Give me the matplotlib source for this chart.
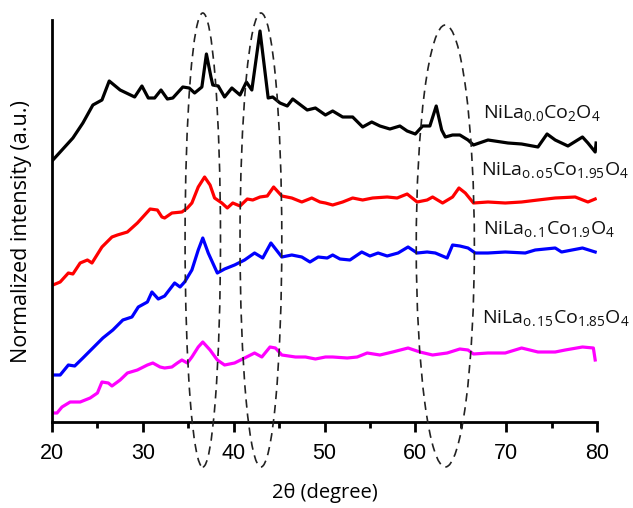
import matplotlib
matplotlib.use("Agg")
import matplotlib.pyplot as plt
from matplotlib.patches import Ellipse

# ---- data ----
x_black = [20.1, 20.9, 22.3, 23.4, 24.5, 25.5, 26.3, 27.5, 29.1, 29.9, 30.6, 31.3, 32.0, 32.7,
           33.3, 34.4, 35.1, 35.7, 36.5, 37.0, 37.5, 37.7, 38.3, 39.0, 39.8, 40.7, 41.4, 42.0,
           42.9, 43.8, 44.3, 45.1, 45.9, 46.5, 48.1, 49.0, 50.1, 50.9, 52.0, 53.1, 54.2, 55.2,
           56.1, 57.2, 58.3, 59.1, 60.0, 60.8, 61.6, 62.3, 62.9, 63.3, 64.1, 64.9, 65.8, 66.4,
           68.0, 70.2, 71.7, 73.5, 74.5, 75.4, 76.8, 78.4, 79.0, 79.8, 79.9]
y_black = [262, 270, 284, 299, 317, 322, 341, 332, 325, 336, 324, 324, 332, 323,
           324, 335, 334, 329, 335, 368, 345, 337, 336, 325, 334, 327, 340, 332,
           391, 324, 325, 319, 316, 323, 312, 314, 307, 311, 305, 305, 295, 300,
           296, 293, 296, 291, 288, 296, 296, 316, 292, 285, 287, 287, 282, 277,
           282, 279, 278, 275, 288, 282, 276, 285, 279, 270, 279]

x_red = [20.1, 20.9, 21.8, 22.3, 23.1, 23.9, 24.4, 25.5, 26.6, 27.2, 28.3, 29.4, 30.5, 30.8,
         31.6, 32.1, 32.4, 33.2, 34.3, 34.9, 35.4, 36.1, 36.8, 37.4, 37.9, 38.7, 39.3, 39.9,
         40.7, 41.5, 42.1, 42.9, 43.7, 44.4, 45.3, 46.4, 47.5, 48.6, 49.5, 50.1, 50.9, 52.0,
         53.1, 54.2, 55.3, 56.9, 58.0, 59.1, 60.2, 61.3, 61.9, 63.0, 64.1, 64.8, 65.5, 66.4,
         68.0, 69.9, 71.7, 73.5, 75.4, 77.6, 79.0, 79.8]
y_red = [137, 140, 149, 148, 159, 162, 159, 175, 185, 187, 190, 199, 210, 213,
         212, 205, 204, 209, 210, 214, 219, 235, 245, 237, 224, 219, 214, 219,
         216, 223, 222, 225, 226, 235, 226, 224, 220, 224, 220, 219, 217, 220,
         224, 222, 224, 225, 224, 228, 220, 222, 225, 219, 225, 234, 229, 219,
         220, 219, 220, 222, 224, 225, 220, 223]

x_blue = [20.1, 20.9, 21.8, 22.5, 23.4, 24.5, 25.6, 26.7, 27.8, 28.8, 29.5, 30.5, 31.0, 31.7,
          32.4, 33.5, 34.1, 34.6, 35.2, 35.4, 36.1, 36.6, 37.2, 38.2, 39.0, 40.1, 41.2, 42.3,
          43.2, 44.1, 45.3, 46.4, 47.5, 48.4, 49.3, 50.3, 50.9, 51.7, 52.8, 54.1, 55.0, 55.9,
          56.9, 58.1, 59.2, 60.2, 61.3, 62.2, 63.5, 64.1, 64.9, 65.8, 66.6, 68.0, 69.9, 72.1,
          73.2, 75.4, 76.1, 78.4, 79.8]
y_blue = [47, 47, 57, 56, 64, 74, 84, 92, 102, 105, 115, 120, 130, 123,
          126, 139, 135, 140, 149, 152, 172, 184, 169, 149, 153, 157, 162, 169,
          164, 179, 165, 167, 165, 160, 165, 164, 167, 163, 162, 170, 166, 169,
          166, 169, 175, 169, 170, 169, 164, 177, 176, 174, 169, 169, 170, 169,
          172, 174, 170, 174, 170]

x_mag = [20.1, 20.55, 21.1, 22.0, 23.1, 24.2, 25.0, 25.5, 26.2, 26.6, 27.5, 28.3, 29.4, 30.5,
         31.1, 31.9, 32.4, 33.2, 33.8, 34.3, 34.9, 35.4, 36.1, 36.6, 37.4, 38.2, 39.0, 40.1,
         41.2, 42.3, 43.1, 44.0, 44.6, 45.3, 46.8, 47.9, 49.0, 50.1, 50.9, 52.5, 53.6, 54.7,
         56.1, 57.5, 59.2, 60.5, 61.9, 63.5, 64.9, 65.8, 66.4, 68.0, 69.9, 71.7, 73.5, 75.4,
         76.5, 78.4, 79.6, 79.8]
y_mag = [9, 9, 15, 20, 20, 24, 29, 40, 39, 36, 42, 49, 52, 57,
         59, 55, 54, 55, 59, 62, 59, 65, 75, 80, 72, 62, 57, 59,
         64, 69, 65, 75, 74, 67, 65, 65, 63, 65, 65, 64, 65, 69,
         67, 70, 74, 70, 67, 69, 73, 72, 68, 69, 69, 74, 70, 70,
         72, 75, 74, 62]

labels = [r"NiLa$_{\mathrm{0.0}}$Co$_{\mathrm{2}}$O$_{\mathrm{4}}$",
          r"NiLa$_{\mathrm{o.o5}}$Co$_{\mathrm{1.95}}$O$_{\mathrm{4}}$",
          r"NiLa$_{\mathrm{o.1}}$Co$_{\mathrm{1.9}}$O$_{\mathrm{4}}$",
          r"NiLa$_{\mathrm{o.15}}$Co$_{\mathrm{1.85}}$O$_{\mathrm{4}}$"]
label_x = [67.45, 67.2, 67.45, 67.3]
label_y = [304, 247, 188, 99]

# dashed ellipses: (center x, center y, width, height)
ell_cx = [36.6, 43.0, 63.3]
ell_cy = [182, 182, 176]
ell_w = [3.9, 4.6, 6.4]
ell_h = [454, 454, 442]

xticks = [20, 30, 40, 50, 60, 70, 80]

# ---- figure ----
plt.rcParams['font.family'] = ['Open Sans', 'DejaVu Sans']
plt.rcParams['mathtext.fontset'] = 'custom'
plt.rcParams['mathtext.rm'] = 'Open Sans'
plt.rcParams['mathtext.it'] = 'Open Sans:italic'
plt.rcParams['mathtext.bf'] = 'Open Sans:bold'
fig = plt.figure(figsize=(6.33, 5.08), dpi=100)
ax = fig.add_axes([52/633, 86/508, 545/633, 402/508])

series = [(x_black, y_black, 'black'), (x_red, y_red, '#ff0000'),
          (x_blue, y_blue, '#0000ff'), (x_mag, y_mag, '#ff00ff')]
for xs, ys, c in series:
    ax.plot(xs, ys, color=c, lw=2.3, solid_joinstyle='round')

for cx, cy, w, h in zip(ell_cx, ell_cy, ell_w, ell_h):
    e = Ellipse((cx, cy), w, h, fill=False, ec='#222222', lw=1.2,
                ls=(0, (5, 3.5)), clip_on=False, zorder=5)
    ax.add_patch(e)

for t, lx, ly in zip(labels, label_x, label_y):
    ax.text(lx, ly, t, fontsize=14, va='baseline', ha='left', color='#111111',
            clip_on=False)

ax.set_xlim(20, 80)
ax.set_ylim(0, 402)
ax.set_xticks(xticks)
ax.set_xticks([25, 35, 45, 55, 65, 75], minor=True)
ax.set_yticks([])
for s in ['top', 'right']:
    ax.spines[s].set_visible(False)
for s in ['left', 'bottom']:
    ax.spines[s].set_linewidth(2)
ax.tick_params(axis='x', which='major', length=7, width=2, direction='out', pad=8)
ax.tick_params(axis='x', which='minor', length=4, width=2, direction='out')
for lbl in ax.get_xticklabels():
    lbl.set_fontfamily(['Liberation Sans', 'DejaVu Sans'])
    lbl.set_fontsize(15.5)

ax.set_xlabel("2θ (degree)", fontsize=14.5)
ax.xaxis.set_label_coords(0.5, -0.152)
ax.set_ylabel("Normalized intensity (a.u.)", fontsize=15.5)
ax.yaxis.set_label_coords(-0.037, 0.473)

fig.savefig("out.png", dpi=100)
